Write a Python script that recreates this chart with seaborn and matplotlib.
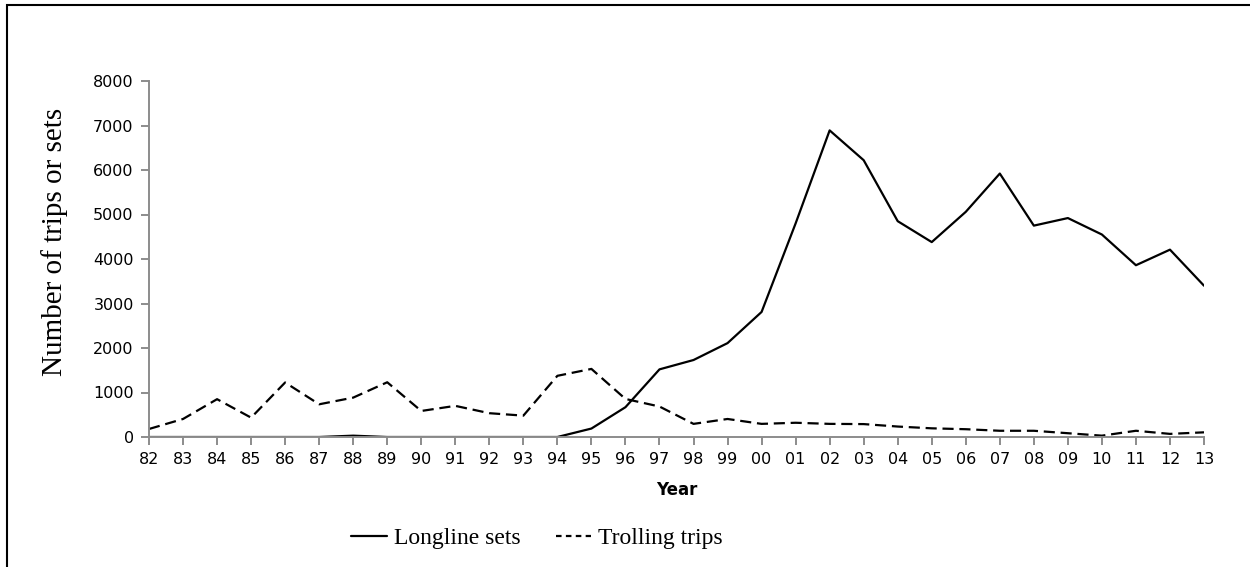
import numpy as np
import pandas as pd
import matplotlib
matplotlib.use('Agg')
import matplotlib.pyplot as plt
import seaborn as sns
from matplotlib.patches import Rectangle

years = ['82', '83', '84', '85', '86', '87', '88', '89', '90', '91', '92', '93',
         '94', '95', '96', '97', '98', '99', '00', '01', '02', '03', '04', '05',
         '06', '07', '08', '09', '10', '11', '12', '13']

longline_sets = [0, 0, 0, 0, 0, 0, 30, 0, 0, 0, 0, 0, 0,
                 190, 670, 1520, 1730, 2110, 2810, 4800, 6890, 6220, 4850,
                 4380, 5060, 5920, 4750, 4920, 4550, 3860, 4210, 3400]

trolling_trips = [180, 405, 850, 435, 1225, 735, 885, 1230, 585, 700, 535, 480,
                  1375, 1530, 855, 685, 295, 405, 295, 320, 295, 290,
                  235, 195, 175, 140, 140, 85, 30, 140, 70, 105]

series_names = ['Longline sets', 'Trolling trips']
y_ticks = [0, 1000, 2000, 3000, 4000, 5000, 6000, 7000, 8000]

# long form table for seaborn
pos = np.arange(len(years))
df = pd.DataFrame({
    'pos': np.concatenate([pos, pos]),
    'value': longline_sets + trolling_trips,
    'series': [series_names[0]] * len(years) + [series_names[1]] * len(years),
})

sns.set_theme(style='white')
plt.rcParams['font.family'] = ['DejaVu Sans']
plt.rcParams['text.color'] = 'black'

fig = plt.figure(figsize=(12.5, 5.67), dpi=100)
ax = fig.add_axes([149 / 1250, 130 / 567, 1055 / 1250, 356 / 567])

sns.lineplot(data=df, x='pos', y='value', style='series', color='black',
             dashes={series_names[0]: '', series_names[1]: (5, 2.6)},
             linewidth=1.6, ax=ax, legend='full')

ax.set_xlim(0, len(years) - 1)
ax.set_ylim(0, 8000)
ax.set_xticks(pos)
ax.set_xticklabels(years, fontsize=11.5)
ax.set_yticks(y_ticks)
ax.set_yticklabels([str(v) for v in y_ticks], fontsize=11.5)

grey = '#8c8c8c'
for s in ['top', 'right']:
    ax.spines[s].set_visible(False)
for s in ['left', 'bottom']:
    ax.spines[s].set_color(grey)
    ax.spines[s].set_linewidth(1.4)
ax.tick_params(axis='both', direction='out', length=6, width=1.4, color=grey,
               left=True, bottom=True, labelcolor='black', pad=5)

ax.set_xlabel('Year', fontsize=12, fontweight='bold', labelpad=10,
              color='black')
ax.set_ylabel('Number of trips or sets', fontsize=21,
              family='Liberation Serif', color='black')
ax.yaxis.set_label_coords(-0.077, 0.548)

leg = ax.legend(loc='center', bbox_to_anchor=(537 / 1250, 1 - 538 / 567),
                bbox_transform=fig.transFigure, ncol=2, frameon=False,
                prop={'family': 'Liberation Serif', 'size': 17},
                handlelength=1.5, columnspacing=1.5, handletextpad=0.3)
for t in leg.get_texts():
    t.set_color('black')
leg.get_lines()[1].set_dashes([2.5, 1.95])

# outer frame of the original figure
fig.add_artist(Rectangle((7 / 1250, -0.2), 1.2, 1.2 - 5 / 567,
                         transform=fig.transFigure, fill=False,
                         edgecolor='black', linewidth=1.5))

fig.savefig('out.png', dpi=100)
